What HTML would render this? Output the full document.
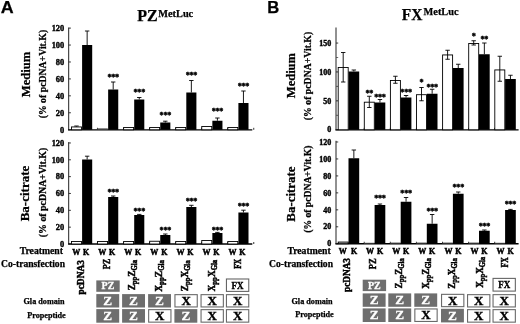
<!DOCTYPE html>
<html><head><meta charset="utf-8"><title>Figure</title>
<style>html,body{margin:0;padding:0;background:#fff}body{width:520px;height:324px;overflow:hidden}svg{display:block}</style>
</head><body>
<svg width="520" height="324" viewBox="0 0 520 324">
<defs><filter id="soft" x="0" y="0" width="520" height="324" filterUnits="userSpaceOnUse"><feGaussianBlur stdDeviation="0.35"/></filter></defs>
<rect width="520" height="324" fill="#fff"/>
<g filter="url(#soft)">
<text x="0.7" y="12.9" font-family='"Liberation Sans","DejaVu Sans",sans-serif' font-size="15.6" font-weight="bold" text-anchor="start" fill="#000" textLength="12.9" lengthAdjust="spacingAndGlyphs" stroke="#000" stroke-width="0.25">A</text>
<text x="267.2" y="13.1" font-family='"Liberation Sans","DejaVu Sans",sans-serif' font-size="15.6" font-weight="bold" text-anchor="start" fill="#000" textLength="12.0" lengthAdjust="spacingAndGlyphs" stroke="#000" stroke-width="0.25">B</text>
<text x="137.3" y="20.5" font-family='"Liberation Serif","DejaVu Serif",serif' font-size="16" font-weight="bold" text-anchor="start" fill="#000"  stroke="#000" stroke-width="0.25">PZ</text>
<text x="158.3" y="16.5" font-family='"Liberation Serif","DejaVu Serif",serif' font-size="10.3" font-weight="bold" text-anchor="start" fill="#000"  stroke="#000" stroke-width="0.25">MetLuc</text>
<text x="401.8" y="20.2" font-family='"Liberation Serif","DejaVu Serif",serif' font-size="16" font-weight="bold" text-anchor="start" fill="#000" textLength="20.6" lengthAdjust="spacingAndGlyphs" stroke="#000" stroke-width="0.25">FX</text>
<text x="423.6" y="15.4" font-family='"Liberation Serif","DejaVu Serif",serif' font-size="10.3" font-weight="bold" text-anchor="start" fill="#000"  stroke="#000" stroke-width="0.25">MetLuc</text>
<text transform="translate(29.8 74.4) rotate(-90)" font-family='"Liberation Serif","DejaVu Serif",serif' font-size="12.6" font-weight="bold" text-anchor="middle" fill="#000"  stroke="#000" stroke-width="0.25">Medium</text>
<text transform="translate(45.8 74.1) rotate(-90)" font-family='"Liberation Serif","DejaVu Serif",serif' font-size="9.78" font-weight="bold" text-anchor="middle" fill="#000"  stroke="#000" stroke-width="0.25">(% of pcDNA+Vit.K)</text>
<text transform="translate(29.0 193.5) rotate(-90)" font-family='"Liberation Serif","DejaVu Serif",serif' font-size="13" font-weight="bold" text-anchor="middle" fill="#000"  stroke="#000" stroke-width="0.25">Ba-citrate</text>
<text transform="translate(45.6 192.5) rotate(-90)" font-family='"Liberation Serif","DejaVu Serif",serif' font-size="9.89" font-weight="bold" text-anchor="middle" fill="#000"  stroke="#000" stroke-width="0.25">(% of pcDNA+Vit.K)</text>
<text transform="translate(294.5 75.6) rotate(-90)" font-family='"Liberation Serif","DejaVu Serif",serif' font-size="12.5" font-weight="bold" text-anchor="middle" fill="#000"  stroke="#000" stroke-width="0.25">Medium</text>
<text transform="translate(311.3 76) rotate(-90)" font-family='"Liberation Serif","DejaVu Serif",serif' font-size="9.75" font-weight="bold" text-anchor="middle" fill="#000"  stroke="#000" stroke-width="0.25">(% of pcDNA+Vit.K)</text>
<text transform="translate(294.7 194.1) rotate(-90)" font-family='"Liberation Serif","DejaVu Serif",serif' font-size="12.9" font-weight="bold" text-anchor="middle" fill="#000"  stroke="#000" stroke-width="0.25">Ba-citrate</text>
<text transform="translate(311.2 189.2) rotate(-90)" font-family='"Liberation Serif","DejaVu Serif",serif' font-size="9.65" font-weight="bold" text-anchor="middle" fill="#000"  stroke="#000" stroke-width="0.25">(% of pcDNA+Vit.K)</text>
<line x1="68.7" y1="27.5" x2="68.7" y2="130.3" stroke="#222" stroke-width="1.0"/>
<line x1="68.2" y1="129.8" x2="252.3" y2="129.8" stroke="#000" stroke-width="1.3"/>
<line x1="68.7" y1="129.7" x2="70.9" y2="129.7" stroke="#222" stroke-width="0.9"/>
<text x="64.2" y="132.51399999999998" font-family='"Liberation Serif","DejaVu Serif",serif' font-size="8.4" font-weight="bold" text-anchor="end" fill="#000" stroke="#000" stroke-width="0.4">0</text>
<line x1="68.7" y1="112.76999999999998" x2="70.9" y2="112.76999999999998" stroke="#222" stroke-width="0.9"/>
<text x="64.2" y="115.58399999999999" font-family='"Liberation Serif","DejaVu Serif",serif' font-size="8.4" font-weight="bold" text-anchor="end" fill="#000" stroke="#000" stroke-width="0.4">20</text>
<line x1="68.7" y1="95.83999999999999" x2="70.9" y2="95.83999999999999" stroke="#222" stroke-width="0.9"/>
<text x="64.2" y="98.654" font-family='"Liberation Serif","DejaVu Serif",serif' font-size="8.4" font-weight="bold" text-anchor="end" fill="#000" stroke="#000" stroke-width="0.4">40</text>
<line x1="68.7" y1="78.91" x2="70.9" y2="78.91" stroke="#222" stroke-width="0.9"/>
<text x="64.2" y="81.724" font-family='"Liberation Serif","DejaVu Serif",serif' font-size="8.4" font-weight="bold" text-anchor="end" fill="#000" stroke="#000" stroke-width="0.4">60</text>
<line x1="68.7" y1="61.97999999999999" x2="70.9" y2="61.97999999999999" stroke="#222" stroke-width="0.9"/>
<text x="64.2" y="64.794" font-family='"Liberation Serif","DejaVu Serif",serif' font-size="8.4" font-weight="bold" text-anchor="end" fill="#000" stroke="#000" stroke-width="0.4">80</text>
<line x1="68.7" y1="45.04999999999998" x2="70.9" y2="45.04999999999998" stroke="#222" stroke-width="0.9"/>
<text x="64.2" y="47.86399999999998" font-family='"Liberation Serif","DejaVu Serif",serif' font-size="8.4" font-weight="bold" text-anchor="end" fill="#000" stroke="#000" stroke-width="0.4">100</text>
<line x1="68.7" y1="28.11999999999999" x2="70.9" y2="28.11999999999999" stroke="#222" stroke-width="0.9"/>
<text x="64.2" y="30.93399999999999" font-family='"Liberation Serif","DejaVu Serif",serif' font-size="8.4" font-weight="bold" text-anchor="end" fill="#000" stroke="#000" stroke-width="0.4">120</text>
<line x1="68.7" y1="142.1" x2="68.7" y2="244.5" stroke="#222" stroke-width="1.0"/>
<line x1="68.2" y1="244" x2="252.3" y2="244" stroke="#000" stroke-width="1.3"/>
<line x1="68.7" y1="244.0" x2="70.9" y2="244.0" stroke="#222" stroke-width="0.9"/>
<text x="64.2" y="246.814" font-family='"Liberation Serif","DejaVu Serif",serif' font-size="8.4" font-weight="bold" text-anchor="end" fill="#000" stroke="#000" stroke-width="0.4">0</text>
<line x1="68.7" y1="227.16" x2="70.9" y2="227.16" stroke="#222" stroke-width="0.9"/>
<text x="64.2" y="229.974" font-family='"Liberation Serif","DejaVu Serif",serif' font-size="8.4" font-weight="bold" text-anchor="end" fill="#000" stroke="#000" stroke-width="0.4">20</text>
<line x1="68.7" y1="210.32" x2="70.9" y2="210.32" stroke="#222" stroke-width="0.9"/>
<text x="64.2" y="213.134" font-family='"Liberation Serif","DejaVu Serif",serif' font-size="8.4" font-weight="bold" text-anchor="end" fill="#000" stroke="#000" stroke-width="0.4">40</text>
<line x1="68.7" y1="193.48000000000002" x2="70.9" y2="193.48000000000002" stroke="#222" stroke-width="0.9"/>
<text x="64.2" y="196.294" font-family='"Liberation Serif","DejaVu Serif",serif' font-size="8.4" font-weight="bold" text-anchor="end" fill="#000" stroke="#000" stroke-width="0.4">60</text>
<line x1="68.7" y1="176.64" x2="70.9" y2="176.64" stroke="#222" stroke-width="0.9"/>
<text x="64.2" y="179.45399999999998" font-family='"Liberation Serif","DejaVu Serif",serif' font-size="8.4" font-weight="bold" text-anchor="end" fill="#000" stroke="#000" stroke-width="0.4">80</text>
<line x1="68.7" y1="159.8" x2="70.9" y2="159.8" stroke="#222" stroke-width="0.9"/>
<text x="64.2" y="162.614" font-family='"Liberation Serif","DejaVu Serif",serif' font-size="8.4" font-weight="bold" text-anchor="end" fill="#000" stroke="#000" stroke-width="0.4">100</text>
<line x1="68.7" y1="142.96" x2="70.9" y2="142.96" stroke="#222" stroke-width="0.9"/>
<text x="64.2" y="145.774" font-family='"Liberation Serif","DejaVu Serif",serif' font-size="8.4" font-weight="bold" text-anchor="end" fill="#000" stroke="#000" stroke-width="0.4">120</text>
<line x1="97.45" y1="129.8" x2="97.45" y2="127.80000000000001" stroke="#000" stroke-width="0.8"/>
<rect x="71.50" y="126.95" width="10.00" height="2.85" fill="#fff" stroke="#000" stroke-width="0.9"/>
<line x1="76.5" y1="126" x2="76.5" y2="126.5" stroke="#000" stroke-width="0.9"/>
<line x1="74.3" y1="126" x2="78.7" y2="126" stroke="#000" stroke-width="0.9"/>
<line x1="87.14999999999999" y1="31" x2="87.14999999999999" y2="45" stroke="#000" stroke-width="0.9"/>
<line x1="84.94999999999999" y1="31" x2="89.35" y2="31" stroke="#000" stroke-width="0.9"/>
<rect x="82.10" y="45.00" width="10.10" height="84.80" fill="#000"/>
<line x1="123.5" y1="129.8" x2="123.5" y2="127.80000000000001" stroke="#000" stroke-width="0.8"/>
<rect x="97.25" y="128.40" width="10.60" height="1.40" fill="#444"/>
<line x1="113.19999999999999" y1="82" x2="113.19999999999999" y2="89.5" stroke="#000" stroke-width="0.9"/>
<line x1="110.99999999999999" y1="82" x2="115.39999999999999" y2="82" stroke="#000" stroke-width="0.9"/>
<rect x="108.15" y="89.50" width="10.10" height="40.30" fill="#000"/>
<text x="113.19999999999999" y="79.6" font-family='"Liberation Serif","DejaVu Serif",serif' font-size="8.2" font-weight="bold" text-anchor="middle" fill="#000" letter-spacing="-0.3" stroke="#000" stroke-width="0.4">***</text>
<line x1="149.55" y1="129.8" x2="149.55" y2="127.80000000000001" stroke="#000" stroke-width="0.8"/>
<rect x="123.60" y="127.45" width="10.00" height="2.35" fill="#fff" stroke="#000" stroke-width="0.9"/>
<line x1="139.25" y1="97.5" x2="139.25" y2="99.5" stroke="#000" stroke-width="0.9"/>
<line x1="137.05" y1="97.5" x2="141.45" y2="97.5" stroke="#000" stroke-width="0.9"/>
<rect x="134.20" y="99.50" width="10.10" height="30.30" fill="#000"/>
<text x="139.25" y="95.35" font-family='"Liberation Serif","DejaVu Serif",serif' font-size="8.2" font-weight="bold" text-anchor="middle" fill="#000" letter-spacing="-0.3" stroke="#000" stroke-width="0.4">***</text>
<line x1="175.60000000000002" y1="129.8" x2="175.60000000000002" y2="127.80000000000001" stroke="#000" stroke-width="0.8"/>
<rect x="149.65" y="127.45" width="10.00" height="2.35" fill="#fff" stroke="#000" stroke-width="0.9"/>
<line x1="165.3" y1="121.2" x2="165.3" y2="122.5" stroke="#000" stroke-width="0.9"/>
<line x1="163.10000000000002" y1="121.2" x2="167.5" y2="121.2" stroke="#000" stroke-width="0.9"/>
<rect x="160.25" y="122.50" width="10.10" height="7.30" fill="#000"/>
<text x="165.3" y="117.85" font-family='"Liberation Serif","DejaVu Serif",serif' font-size="8.2" font-weight="bold" text-anchor="middle" fill="#000" letter-spacing="-0.3" stroke="#000" stroke-width="0.4">***</text>
<line x1="201.65" y1="129.8" x2="201.65" y2="127.80000000000001" stroke="#000" stroke-width="0.8"/>
<rect x="175.70" y="127.45" width="10.00" height="2.35" fill="#fff" stroke="#000" stroke-width="0.9"/>
<line x1="191.35" y1="80.5" x2="191.35" y2="92.5" stroke="#000" stroke-width="0.9"/>
<line x1="189.15" y1="80.5" x2="193.54999999999998" y2="80.5" stroke="#000" stroke-width="0.9"/>
<rect x="186.30" y="92.50" width="10.10" height="37.30" fill="#000"/>
<text x="191.35" y="78.35" font-family='"Liberation Serif","DejaVu Serif",serif' font-size="8.2" font-weight="bold" text-anchor="middle" fill="#000" letter-spacing="-0.3" stroke="#000" stroke-width="0.4">***</text>
<line x1="227.70000000000002" y1="129.8" x2="227.70000000000002" y2="127.80000000000001" stroke="#000" stroke-width="0.8"/>
<rect x="201.75" y="126.45" width="10.00" height="3.35" fill="#fff" stroke="#000" stroke-width="0.9"/>
<line x1="217.4" y1="118" x2="217.4" y2="120.75" stroke="#000" stroke-width="0.9"/>
<line x1="215.20000000000002" y1="118" x2="219.6" y2="118" stroke="#000" stroke-width="0.9"/>
<rect x="212.35" y="120.75" width="10.10" height="9.05" fill="#000"/>
<text x="217.4" y="113.85" font-family='"Liberation Serif","DejaVu Serif",serif' font-size="8.2" font-weight="bold" text-anchor="middle" fill="#000" letter-spacing="-0.3" stroke="#000" stroke-width="0.4">***</text>
<line x1="253.75000000000003" y1="129.8" x2="253.75000000000003" y2="127.80000000000001" stroke="#000" stroke-width="0.8"/>
<rect x="227.80" y="127.45" width="10.00" height="2.35" fill="#fff" stroke="#000" stroke-width="0.9"/>
<line x1="243.45000000000002" y1="91" x2="243.45000000000002" y2="103" stroke="#000" stroke-width="0.9"/>
<line x1="241.25000000000003" y1="91" x2="245.65" y2="91" stroke="#000" stroke-width="0.9"/>
<rect x="238.40" y="103.00" width="10.10" height="26.80" fill="#000"/>
<text x="243.45000000000002" y="88.6" font-family='"Liberation Serif","DejaVu Serif",serif' font-size="8.2" font-weight="bold" text-anchor="middle" fill="#000" letter-spacing="-0.3" stroke="#000" stroke-width="0.4">***</text>
<line x1="97.45" y1="244" x2="97.45" y2="242" stroke="#000" stroke-width="0.8"/>
<rect x="71.50" y="241.45" width="10.00" height="2.55" fill="#fff" stroke="#000" stroke-width="0.9"/>
<line x1="87.14999999999999" y1="156.2" x2="87.14999999999999" y2="159.5" stroke="#000" stroke-width="0.9"/>
<line x1="84.94999999999999" y1="156.2" x2="89.35" y2="156.2" stroke="#000" stroke-width="0.9"/>
<rect x="82.10" y="159.50" width="10.10" height="84.50" fill="#000"/>
<line x1="123.5" y1="244" x2="123.5" y2="242" stroke="#000" stroke-width="0.8"/>
<rect x="97.55" y="241.45" width="10.00" height="2.55" fill="#fff" stroke="#000" stroke-width="0.9"/>
<line x1="113.19999999999999" y1="196" x2="113.19999999999999" y2="197" stroke="#000" stroke-width="0.9"/>
<line x1="110.99999999999999" y1="196" x2="115.39999999999999" y2="196" stroke="#000" stroke-width="0.9"/>
<rect x="108.15" y="197.00" width="10.10" height="47.00" fill="#000"/>
<text x="113.19999999999999" y="195.35" font-family='"Liberation Serif","DejaVu Serif",serif' font-size="8.2" font-weight="bold" text-anchor="middle" fill="#000" letter-spacing="-0.3" stroke="#000" stroke-width="0.4">***</text>
<line x1="149.55" y1="244" x2="149.55" y2="242" stroke="#000" stroke-width="0.8"/>
<rect x="123.60" y="241.45" width="10.00" height="2.55" fill="#fff" stroke="#000" stroke-width="0.9"/>
<line x1="139.25" y1="214.4" x2="139.25" y2="215" stroke="#000" stroke-width="0.9"/>
<line x1="137.05" y1="214.4" x2="141.45" y2="214.4" stroke="#000" stroke-width="0.9"/>
<rect x="134.20" y="215.00" width="10.10" height="29.00" fill="#000"/>
<text x="139.25" y="214.1" font-family='"Liberation Serif","DejaVu Serif",serif' font-size="8.2" font-weight="bold" text-anchor="middle" fill="#000" letter-spacing="-0.3" stroke="#000" stroke-width="0.4">***</text>
<line x1="175.60000000000002" y1="244" x2="175.60000000000002" y2="242" stroke="#000" stroke-width="0.8"/>
<rect x="149.65" y="241.25" width="10.00" height="2.75" fill="#fff" stroke="#000" stroke-width="0.9"/>
<line x1="165.3" y1="234" x2="165.3" y2="235" stroke="#000" stroke-width="0.9"/>
<line x1="163.10000000000002" y1="234" x2="167.5" y2="234" stroke="#000" stroke-width="0.9"/>
<rect x="160.25" y="235.00" width="10.10" height="9.00" fill="#000"/>
<text x="165.3" y="233.35" font-family='"Liberation Serif","DejaVu Serif",serif' font-size="8.2" font-weight="bold" text-anchor="middle" fill="#000" letter-spacing="-0.3" stroke="#000" stroke-width="0.4">***</text>
<line x1="201.65" y1="244" x2="201.65" y2="242" stroke="#000" stroke-width="0.8"/>
<rect x="175.70" y="241.45" width="10.00" height="2.55" fill="#fff" stroke="#000" stroke-width="0.9"/>
<line x1="191.35" y1="205.3" x2="191.35" y2="207" stroke="#000" stroke-width="0.9"/>
<line x1="189.15" y1="205.3" x2="193.54999999999998" y2="205.3" stroke="#000" stroke-width="0.9"/>
<rect x="186.30" y="207.00" width="10.10" height="37.00" fill="#000"/>
<text x="191.35" y="203.79999999999998" font-family='"Liberation Serif","DejaVu Serif",serif' font-size="8.2" font-weight="bold" text-anchor="middle" fill="#000" letter-spacing="-0.3" stroke="#000" stroke-width="0.4">***</text>
<line x1="227.70000000000002" y1="244" x2="227.70000000000002" y2="242" stroke="#000" stroke-width="0.8"/>
<rect x="201.75" y="240.45" width="10.00" height="3.55" fill="#fff" stroke="#000" stroke-width="0.9"/>
<line x1="217.4" y1="232.4" x2="217.4" y2="233" stroke="#000" stroke-width="0.9"/>
<line x1="215.20000000000002" y1="232.4" x2="219.6" y2="232.4" stroke="#000" stroke-width="0.9"/>
<rect x="212.35" y="233.00" width="10.10" height="11.00" fill="#000"/>
<text x="217.4" y="232.6" font-family='"Liberation Serif","DejaVu Serif",serif' font-size="8.2" font-weight="bold" text-anchor="middle" fill="#000" letter-spacing="-0.3" stroke="#000" stroke-width="0.4">***</text>
<line x1="253.75000000000003" y1="244" x2="253.75000000000003" y2="242" stroke="#000" stroke-width="0.8"/>
<rect x="227.80" y="241.45" width="10.00" height="2.55" fill="#fff" stroke="#000" stroke-width="0.9"/>
<line x1="243.45000000000002" y1="210.2" x2="243.45000000000002" y2="212.5" stroke="#000" stroke-width="0.9"/>
<line x1="241.25000000000003" y1="210.2" x2="245.65" y2="210.2" stroke="#000" stroke-width="0.9"/>
<rect x="238.40" y="212.50" width="10.10" height="31.50" fill="#000"/>
<text x="243.45000000000002" y="208.79999999999998" font-family='"Liberation Serif","DejaVu Serif",serif' font-size="8.2" font-weight="bold" text-anchor="middle" fill="#000" letter-spacing="-0.3" stroke="#000" stroke-width="0.4">***</text>
<line x1="336" y1="27.5" x2="336" y2="130.3" stroke="#222" stroke-width="1.0"/>
<line x1="335.5" y1="129.8" x2="518.6" y2="129.8" stroke="#000" stroke-width="1.3"/>
<line x1="336" y1="129.75" x2="338.2" y2="129.75" stroke="#222" stroke-width="0.9"/>
<text x="331.3" y="132.43" font-family='"Liberation Serif","DejaVu Serif",serif' font-size="8.0" font-weight="bold" text-anchor="end" fill="#000" stroke="#000" stroke-width="0.4">0</text>
<line x1="336" y1="100.85" x2="338.2" y2="100.85" stroke="#222" stroke-width="0.9"/>
<text x="331.3" y="103.53" font-family='"Liberation Serif","DejaVu Serif",serif' font-size="8.0" font-weight="bold" text-anchor="end" fill="#000" stroke="#000" stroke-width="0.4">50</text>
<line x1="336" y1="71.95" x2="338.2" y2="71.95" stroke="#222" stroke-width="0.9"/>
<text x="331.3" y="74.63000000000001" font-family='"Liberation Serif","DejaVu Serif",serif' font-size="8.0" font-weight="bold" text-anchor="end" fill="#000" stroke="#000" stroke-width="0.4">100</text>
<line x1="336" y1="43.05000000000001" x2="338.2" y2="43.05000000000001" stroke="#222" stroke-width="0.9"/>
<text x="331.3" y="45.73000000000001" font-family='"Liberation Serif","DejaVu Serif",serif' font-size="8.0" font-weight="bold" text-anchor="end" fill="#000" stroke="#000" stroke-width="0.4">150</text>
<line x1="336" y1="115.3" x2="338.2" y2="115.3" stroke="#444" stroke-width="0.8"/>
<line x1="336" y1="86.4" x2="338.2" y2="86.4" stroke="#444" stroke-width="0.8"/>
<line x1="336" y1="57.5" x2="338.2" y2="57.5" stroke="#444" stroke-width="0.8"/>
<line x1="336" y1="140.8" x2="336" y2="244.25" stroke="#222" stroke-width="1.0"/>
<line x1="335.5" y1="243.75" x2="518.6" y2="243.75" stroke="#000" stroke-width="1.3"/>
<line x1="336" y1="243.75" x2="338.2" y2="243.75" stroke="#222" stroke-width="0.9"/>
<text x="331.3" y="246.43" font-family='"Liberation Serif","DejaVu Serif",serif' font-size="8.0" font-weight="bold" text-anchor="end" fill="#000" stroke="#000" stroke-width="0.4">0</text>
<line x1="336" y1="226.79" x2="338.2" y2="226.79" stroke="#222" stroke-width="0.9"/>
<text x="331.3" y="229.47" font-family='"Liberation Serif","DejaVu Serif",serif' font-size="8.0" font-weight="bold" text-anchor="end" fill="#000" stroke="#000" stroke-width="0.4">20</text>
<line x1="336" y1="209.82999999999998" x2="338.2" y2="209.82999999999998" stroke="#222" stroke-width="0.9"/>
<text x="331.3" y="212.51" font-family='"Liberation Serif","DejaVu Serif",serif' font-size="8.0" font-weight="bold" text-anchor="end" fill="#000" stroke="#000" stroke-width="0.4">40</text>
<line x1="336" y1="192.87" x2="338.2" y2="192.87" stroke="#222" stroke-width="0.9"/>
<text x="331.3" y="195.55" font-family='"Liberation Serif","DejaVu Serif",serif' font-size="8.0" font-weight="bold" text-anchor="end" fill="#000" stroke="#000" stroke-width="0.4">60</text>
<line x1="336" y1="175.91" x2="338.2" y2="175.91" stroke="#222" stroke-width="0.9"/>
<text x="331.3" y="178.59" font-family='"Liberation Serif","DejaVu Serif",serif' font-size="8.0" font-weight="bold" text-anchor="end" fill="#000" stroke="#000" stroke-width="0.4">80</text>
<line x1="336" y1="158.95" x2="338.2" y2="158.95" stroke="#222" stroke-width="0.9"/>
<text x="331.3" y="161.63" font-family='"Liberation Serif","DejaVu Serif",serif' font-size="8.0" font-weight="bold" text-anchor="end" fill="#000" stroke="#000" stroke-width="0.4">100</text>
<line x1="336" y1="141.99" x2="338.2" y2="141.99" stroke="#222" stroke-width="0.9"/>
<text x="331.3" y="144.67000000000002" font-family='"Liberation Serif","DejaVu Serif",serif' font-size="8.0" font-weight="bold" text-anchor="end" fill="#000" stroke="#000" stroke-width="0.4">120</text>
<line x1="364.2" y1="129.8" x2="364.2" y2="127.80000000000001" stroke="#000" stroke-width="0.8"/>
<rect x="338.20" y="67.45" width="10.00" height="62.35" fill="#fff" stroke="#000" stroke-width="0.9"/>
<line x1="343.2" y1="52.5" x2="343.2" y2="82" stroke="#000" stroke-width="0.9"/>
<line x1="341.0" y1="52.5" x2="345.4" y2="52.5" stroke="#000" stroke-width="0.9"/>
<line x1="341.0" y1="82" x2="345.4" y2="82" stroke="#000" stroke-width="0.9"/>
<line x1="353.85" y1="70" x2="353.85" y2="71.5" stroke="#000" stroke-width="0.9"/>
<line x1="351.65000000000003" y1="70" x2="356.05" y2="70" stroke="#000" stroke-width="0.9"/>
<rect x="348.50" y="71.50" width="10.70" height="58.30" fill="#000"/>
<line x1="390.3" y1="129.8" x2="390.3" y2="127.80000000000001" stroke="#000" stroke-width="0.8"/>
<rect x="364.30" y="102.20" width="10.00" height="27.60" fill="#fff" stroke="#000" stroke-width="0.9"/>
<line x1="369.3" y1="96.25" x2="369.3" y2="107.5" stroke="#000" stroke-width="0.9"/>
<line x1="367.1" y1="96.25" x2="371.5" y2="96.25" stroke="#000" stroke-width="0.9"/>
<line x1="367.1" y1="107.5" x2="371.5" y2="107.5" stroke="#000" stroke-width="0.9"/>
<line x1="379.95000000000005" y1="99.5" x2="379.95000000000005" y2="102.5" stroke="#000" stroke-width="0.9"/>
<line x1="377.75000000000006" y1="99.5" x2="382.15000000000003" y2="99.5" stroke="#000" stroke-width="0.9"/>
<rect x="374.60" y="102.50" width="10.70" height="27.30" fill="#000"/>
<text x="369.3" y="95.85" font-family='"Liberation Serif","DejaVu Serif",serif' font-size="8.2" font-weight="bold" text-anchor="middle" fill="#000" letter-spacing="-0.3" stroke="#000" stroke-width="0.4">**</text>
<text x="379.95000000000005" y="99.6" font-family='"Liberation Serif","DejaVu Serif",serif' font-size="8.2" font-weight="bold" text-anchor="middle" fill="#000" letter-spacing="-0.3" stroke="#000" stroke-width="0.4">***</text>
<line x1="416.4" y1="129.8" x2="416.4" y2="127.80000000000001" stroke="#000" stroke-width="0.8"/>
<rect x="390.40" y="80.45" width="10.00" height="49.35" fill="#fff" stroke="#000" stroke-width="0.9"/>
<line x1="395.4" y1="76.25" x2="395.4" y2="83.25" stroke="#000" stroke-width="0.9"/>
<line x1="393.2" y1="76.25" x2="397.59999999999997" y2="76.25" stroke="#000" stroke-width="0.9"/>
<line x1="393.2" y1="83.25" x2="397.59999999999997" y2="83.25" stroke="#000" stroke-width="0.9"/>
<line x1="406.05" y1="95.5" x2="406.05" y2="97.5" stroke="#000" stroke-width="0.9"/>
<line x1="403.85" y1="95.5" x2="408.25" y2="95.5" stroke="#000" stroke-width="0.9"/>
<rect x="400.70" y="97.50" width="10.70" height="32.30" fill="#000"/>
<text x="406.05" y="94.6" font-family='"Liberation Serif","DejaVu Serif",serif' font-size="8.2" font-weight="bold" text-anchor="middle" fill="#000" letter-spacing="-0.3" stroke="#000" stroke-width="0.4">***</text>
<line x1="442.5" y1="129.8" x2="442.5" y2="127.80000000000001" stroke="#000" stroke-width="0.8"/>
<rect x="416.50" y="94.70" width="10.00" height="35.10" fill="#fff" stroke="#000" stroke-width="0.9"/>
<line x1="421.5" y1="87.5" x2="421.5" y2="100.75" stroke="#000" stroke-width="0.9"/>
<line x1="419.3" y1="87.5" x2="423.7" y2="87.5" stroke="#000" stroke-width="0.9"/>
<line x1="419.3" y1="100.75" x2="423.7" y2="100.75" stroke="#000" stroke-width="0.9"/>
<line x1="432.15000000000003" y1="89.25" x2="432.15000000000003" y2="93.75" stroke="#000" stroke-width="0.9"/>
<line x1="429.95000000000005" y1="89.25" x2="434.35" y2="89.25" stroke="#000" stroke-width="0.9"/>
<rect x="426.80" y="93.75" width="10.70" height="36.05" fill="#000"/>
<text x="421.5" y="85.35" font-family='"Liberation Serif","DejaVu Serif",serif' font-size="8.2" font-weight="bold" text-anchor="middle" fill="#000" letter-spacing="-0.3" stroke="#000" stroke-width="0.4">*</text>
<text x="432.15000000000003" y="90.1" font-family='"Liberation Serif","DejaVu Serif",serif' font-size="8.2" font-weight="bold" text-anchor="middle" fill="#000" letter-spacing="-0.3" stroke="#000" stroke-width="0.4">***</text>
<line x1="468.6" y1="129.8" x2="468.6" y2="127.80000000000001" stroke="#000" stroke-width="0.8"/>
<rect x="442.60" y="54.95" width="10.00" height="74.85" fill="#fff" stroke="#000" stroke-width="0.9"/>
<line x1="447.6" y1="50.25" x2="447.6" y2="59.25" stroke="#000" stroke-width="0.9"/>
<line x1="445.40000000000003" y1="50.25" x2="449.8" y2="50.25" stroke="#000" stroke-width="0.9"/>
<line x1="445.40000000000003" y1="59.25" x2="449.8" y2="59.25" stroke="#000" stroke-width="0.9"/>
<line x1="458.25000000000006" y1="64.25" x2="458.25000000000006" y2="68" stroke="#000" stroke-width="0.9"/>
<line x1="456.05000000000007" y1="64.25" x2="460.45000000000005" y2="64.25" stroke="#000" stroke-width="0.9"/>
<rect x="452.90" y="68.00" width="10.70" height="61.80" fill="#000"/>
<line x1="494.7" y1="129.8" x2="494.7" y2="127.80000000000001" stroke="#000" stroke-width="0.8"/>
<rect x="468.70" y="43.45" width="10.00" height="86.35" fill="#fff" stroke="#000" stroke-width="0.9"/>
<line x1="473.7" y1="40.75" x2="473.7" y2="45" stroke="#000" stroke-width="0.9"/>
<line x1="471.5" y1="40.75" x2="475.9" y2="40.75" stroke="#000" stroke-width="0.9"/>
<line x1="471.5" y1="45" x2="475.9" y2="45" stroke="#000" stroke-width="0.9"/>
<line x1="484.35" y1="43" x2="484.35" y2="54.25" stroke="#000" stroke-width="0.9"/>
<line x1="482.15000000000003" y1="43" x2="486.55" y2="43" stroke="#000" stroke-width="0.9"/>
<rect x="479.00" y="54.25" width="10.70" height="75.55" fill="#000"/>
<text x="473.7" y="39.4" font-family='"Liberation Serif","DejaVu Serif",serif' font-size="8.2" font-weight="bold" text-anchor="middle" fill="#000" letter-spacing="-0.3" stroke="#000" stroke-width="0.4">*</text>
<text x="484.35" y="41.5" font-family='"Liberation Serif","DejaVu Serif",serif' font-size="8.2" font-weight="bold" text-anchor="middle" fill="#000" letter-spacing="-0.3" stroke="#000" stroke-width="0.4">**</text>
<line x1="520.8" y1="129.8" x2="520.8" y2="127.80000000000001" stroke="#000" stroke-width="0.8"/>
<rect x="494.80" y="69.95" width="10.00" height="59.85" fill="#fff" stroke="#000" stroke-width="0.9"/>
<line x1="499.8" y1="56.25" x2="499.8" y2="81.25" stroke="#000" stroke-width="0.9"/>
<line x1="497.6" y1="56.25" x2="502.0" y2="56.25" stroke="#000" stroke-width="0.9"/>
<line x1="497.6" y1="81.25" x2="502.0" y2="81.25" stroke="#000" stroke-width="0.9"/>
<line x1="510.45000000000005" y1="75.25" x2="510.45000000000005" y2="79" stroke="#000" stroke-width="0.9"/>
<line x1="508.25000000000006" y1="75.25" x2="512.6500000000001" y2="75.25" stroke="#000" stroke-width="0.9"/>
<rect x="505.10" y="79.00" width="10.70" height="50.80" fill="#000"/>
<line x1="364.2" y1="243.75" x2="364.2" y2="241.75" stroke="#000" stroke-width="0.8"/>
<rect x="338.20" y="242.05" width="10.00" height="1.70" fill="#bbb" stroke="#000" stroke-width="0.9"/>
<line x1="353.85" y1="150" x2="353.85" y2="158.25" stroke="#000" stroke-width="0.9"/>
<line x1="351.65000000000003" y1="150" x2="356.05" y2="150" stroke="#000" stroke-width="0.9"/>
<rect x="348.50" y="158.25" width="10.70" height="85.50" fill="#000"/>
<line x1="390.3" y1="243.75" x2="390.3" y2="241.75" stroke="#000" stroke-width="0.8"/>
<rect x="364.00" y="242.80" width="10.60" height="0.95" fill="#444"/>
<line x1="379.95000000000005" y1="204" x2="379.95000000000005" y2="205" stroke="#000" stroke-width="0.9"/>
<line x1="377.75000000000006" y1="204" x2="382.15000000000003" y2="204" stroke="#000" stroke-width="0.9"/>
<rect x="374.60" y="205.00" width="10.70" height="38.75" fill="#000"/>
<text x="379.95000000000005" y="200.85" font-family='"Liberation Serif","DejaVu Serif",serif' font-size="8.2" font-weight="bold" text-anchor="middle" fill="#000" letter-spacing="-0.3" stroke="#000" stroke-width="0.4">***</text>
<line x1="416.4" y1="243.75" x2="416.4" y2="241.75" stroke="#000" stroke-width="0.8"/>
<rect x="390.10" y="242.60" width="10.60" height="1.15" fill="#444"/>
<line x1="406.05" y1="197.5" x2="406.05" y2="201.75" stroke="#000" stroke-width="0.9"/>
<line x1="403.85" y1="197.5" x2="408.25" y2="197.5" stroke="#000" stroke-width="0.9"/>
<rect x="400.70" y="201.75" width="10.70" height="42.00" fill="#000"/>
<text x="406.05" y="195.85" font-family='"Liberation Serif","DejaVu Serif",serif' font-size="8.2" font-weight="bold" text-anchor="middle" fill="#000" letter-spacing="-0.3" stroke="#000" stroke-width="0.4">***</text>
<line x1="442.5" y1="243.75" x2="442.5" y2="241.75" stroke="#000" stroke-width="0.8"/>
<rect x="416.20" y="242.60" width="10.60" height="1.15" fill="#444"/>
<line x1="432.15000000000003" y1="214.5" x2="432.15000000000003" y2="223.75" stroke="#000" stroke-width="0.9"/>
<line x1="429.95000000000005" y1="214.5" x2="434.35" y2="214.5" stroke="#000" stroke-width="0.9"/>
<rect x="426.80" y="223.75" width="10.70" height="20.00" fill="#000"/>
<text x="432.15000000000003" y="214.1" font-family='"Liberation Serif","DejaVu Serif",serif' font-size="8.2" font-weight="bold" text-anchor="middle" fill="#000" letter-spacing="-0.3" stroke="#000" stroke-width="0.4">***</text>
<line x1="468.6" y1="243.75" x2="468.6" y2="241.75" stroke="#000" stroke-width="0.8"/>
<rect x="442.30" y="242.60" width="10.60" height="1.15" fill="#444"/>
<line x1="458.25000000000006" y1="192" x2="458.25000000000006" y2="193.75" stroke="#000" stroke-width="0.9"/>
<line x1="456.05000000000007" y1="192" x2="460.45000000000005" y2="192" stroke="#000" stroke-width="0.9"/>
<rect x="452.90" y="193.75" width="10.70" height="50.00" fill="#000"/>
<text x="458.25000000000006" y="189.6" font-family='"Liberation Serif","DejaVu Serif",serif' font-size="8.2" font-weight="bold" text-anchor="middle" fill="#000" letter-spacing="-0.3" stroke="#000" stroke-width="0.4">***</text>
<line x1="494.7" y1="243.75" x2="494.7" y2="241.75" stroke="#000" stroke-width="0.8"/>
<rect x="468.40" y="242.60" width="10.60" height="1.15" fill="#444"/>
<line x1="484.35" y1="230" x2="484.35" y2="230.75" stroke="#000" stroke-width="0.9"/>
<line x1="482.15000000000003" y1="230" x2="486.55" y2="230" stroke="#000" stroke-width="0.9"/>
<rect x="479.00" y="230.75" width="10.70" height="13.00" fill="#000"/>
<text x="484.35" y="229.1" font-family='"Liberation Serif","DejaVu Serif",serif' font-size="8.2" font-weight="bold" text-anchor="middle" fill="#000" letter-spacing="-0.3" stroke="#000" stroke-width="0.4">***</text>
<line x1="520.8" y1="243.75" x2="520.8" y2="241.75" stroke="#000" stroke-width="0.8"/>
<rect x="494.50" y="242.80" width="10.60" height="0.95" fill="#444"/>
<line x1="510.45000000000005" y1="209.4" x2="510.45000000000005" y2="210" stroke="#000" stroke-width="0.9"/>
<line x1="508.25000000000006" y1="209.4" x2="512.6500000000001" y2="209.4" stroke="#000" stroke-width="0.9"/>
<rect x="505.10" y="210.00" width="10.70" height="33.75" fill="#000"/>
<text x="510.45000000000005" y="207.1" font-family='"Liberation Serif","DejaVu Serif",serif' font-size="8.2" font-weight="bold" text-anchor="middle" fill="#000" letter-spacing="-0.3" stroke="#000" stroke-width="0.4">***</text>
<text x="63" y="254.4" font-family='"Liberation Serif","DejaVu Serif",serif' font-size="9.6" font-weight="bold" text-anchor="end" fill="#000" textLength="43.3" lengthAdjust="spacingAndGlyphs" stroke="#000" stroke-width="0.25">Treatment</text>
<text x="65" y="267.4" font-family='"Liberation Serif","DejaVu Serif",serif' font-size="9.6" font-weight="bold" text-anchor="end" fill="#000"  stroke="#000" stroke-width="0.25">Co-transfection</text>
<text x="64.7" y="304.1" font-family='"Liberation Serif","DejaVu Serif",serif' font-size="8.2" font-weight="bold" text-anchor="end" fill="#000"  stroke="#000" stroke-width="0.25">Gla domain</text>
<text x="65.7" y="317.7" font-family='"Liberation Serif","DejaVu Serif",serif' font-size="8.2" font-weight="bold" text-anchor="end" fill="#000"  stroke="#000" stroke-width="0.25">Propeptide</text>
<text x="76.2" y="254.5" font-family='"Liberation Serif","DejaVu Serif",serif' font-size="8.0" font-weight="bold" text-anchor="middle" fill="#000" stroke="#000" stroke-width="0.45">W</text>
<text x="86.1" y="254.5" font-family='"Liberation Serif","DejaVu Serif",serif' font-size="8.0" font-weight="bold" text-anchor="middle" fill="#000" stroke="#000" stroke-width="0.45">K</text>
<text x="102.25" y="254.5" font-family='"Liberation Serif","DejaVu Serif",serif' font-size="8.0" font-weight="bold" text-anchor="middle" fill="#000" stroke="#000" stroke-width="0.45">W</text>
<text x="112.14999999999999" y="254.5" font-family='"Liberation Serif","DejaVu Serif",serif' font-size="8.0" font-weight="bold" text-anchor="middle" fill="#000" stroke="#000" stroke-width="0.45">K</text>
<text x="128.29999999999998" y="254.5" font-family='"Liberation Serif","DejaVu Serif",serif' font-size="8.0" font-weight="bold" text-anchor="middle" fill="#000" stroke="#000" stroke-width="0.45">W</text>
<text x="138.2" y="254.5" font-family='"Liberation Serif","DejaVu Serif",serif' font-size="8.0" font-weight="bold" text-anchor="middle" fill="#000" stroke="#000" stroke-width="0.45">K</text>
<text x="154.35" y="254.5" font-family='"Liberation Serif","DejaVu Serif",serif' font-size="8.0" font-weight="bold" text-anchor="middle" fill="#000" stroke="#000" stroke-width="0.45">W</text>
<text x="164.25" y="254.5" font-family='"Liberation Serif","DejaVu Serif",serif' font-size="8.0" font-weight="bold" text-anchor="middle" fill="#000" stroke="#000" stroke-width="0.45">K</text>
<text x="180.39999999999998" y="254.5" font-family='"Liberation Serif","DejaVu Serif",serif' font-size="8.0" font-weight="bold" text-anchor="middle" fill="#000" stroke="#000" stroke-width="0.45">W</text>
<text x="190.29999999999998" y="254.5" font-family='"Liberation Serif","DejaVu Serif",serif' font-size="8.0" font-weight="bold" text-anchor="middle" fill="#000" stroke="#000" stroke-width="0.45">K</text>
<text x="206.45" y="254.5" font-family='"Liberation Serif","DejaVu Serif",serif' font-size="8.0" font-weight="bold" text-anchor="middle" fill="#000" stroke="#000" stroke-width="0.45">W</text>
<text x="216.35" y="254.5" font-family='"Liberation Serif","DejaVu Serif",serif' font-size="8.0" font-weight="bold" text-anchor="middle" fill="#000" stroke="#000" stroke-width="0.45">K</text>
<text x="232.5" y="254.5" font-family='"Liberation Serif","DejaVu Serif",serif' font-size="8.0" font-weight="bold" text-anchor="middle" fill="#000" stroke="#000" stroke-width="0.45">W</text>
<text x="242.4" y="254.5" font-family='"Liberation Serif","DejaVu Serif",serif' font-size="8.0" font-weight="bold" text-anchor="middle" fill="#000" stroke="#000" stroke-width="0.45">K</text>
<text transform="translate(83.6 260) rotate(-90)" font-family='"Liberation Serif","DejaVu Serif",serif' font-size="9.5" font-weight="bold" text-anchor="end" fill="#000" textLength="34.6" lengthAdjust="spacingAndGlyphs" stroke="#000" stroke-width="0.45">pcDNA3</text>
<text transform="translate(110.3 258.8) rotate(-90)" font-family='"Liberation Serif","DejaVu Serif",serif' font-size="9.5" font-weight="bold" text-anchor="end" fill="#000" textLength="10.5" lengthAdjust="spacingAndGlyphs" stroke="#000" stroke-width="0.45">PZ</text>
<text transform="translate(134.7 260) rotate(-90)" font-family='"Liberation Serif","DejaVu Serif",serif' font-size="10" font-weight="bold" text-anchor="end" fill="#000" textLength="30.3" lengthAdjust="spacingAndGlyphs" stroke="#000" stroke-width="0.45">Z<tspan font-size="7.3" dy="2.0">pp</tspan><tspan dy="-2.0">Z</tspan><tspan font-size="7.3" dy="2.0">Gla</tspan></text>
<text transform="translate(162 260) rotate(-90)" font-family='"Liberation Serif","DejaVu Serif",serif' font-size="10" font-weight="bold" text-anchor="end" fill="#000" textLength="31.8" lengthAdjust="spacingAndGlyphs" stroke="#000" stroke-width="0.45">X<tspan font-size="7.3" dy="2.0">pp</tspan><tspan dy="-2.0">Z</tspan><tspan font-size="7.3" dy="2.0">Gla</tspan></text>
<text transform="translate(187.7 260.4) rotate(-90)" font-family='"Liberation Serif","DejaVu Serif",serif' font-size="10" font-weight="bold" text-anchor="end" fill="#000" textLength="30.8" lengthAdjust="spacingAndGlyphs" stroke="#000" stroke-width="0.45">Z<tspan font-size="7.3" dy="2.0">pp</tspan><tspan dy="-2.0">X</tspan><tspan font-size="7.3" dy="2.0">Gla</tspan></text>
<text transform="translate(214.6 259.8) rotate(-90)" font-family='"Liberation Serif","DejaVu Serif",serif' font-size="10" font-weight="bold" text-anchor="end" fill="#000" textLength="31.6" lengthAdjust="spacingAndGlyphs" stroke="#000" stroke-width="0.45">X<tspan font-size="7.3" dy="2.0">pp</tspan><tspan dy="-2.0">X</tspan><tspan font-size="7.3" dy="2.0">Gla</tspan></text>
<text transform="translate(240.6 258.8) rotate(-90)" font-family='"Liberation Serif","DejaVu Serif",serif' font-size="9.5" font-weight="bold" text-anchor="end" fill="#000" textLength="10" lengthAdjust="spacingAndGlyphs" stroke="#000" stroke-width="0.45">FX</text>
<rect x="96.30" y="280.40" width="23.40" height="11.40" fill="#6e6e6e"/>
<text x="108.0" y="289.3" font-family='"Liberation Serif","DejaVu Serif",serif' font-size="10" font-weight="bold" text-anchor="middle" fill="#fff" stroke="#fff" stroke-width="0.3">PZ</text>
<rect x="96.30" y="294.10" width="22.90" height="13.40" fill="#6e6e6e"/>
<text x="107.75" y="305.0" font-family='"Liberation Serif","DejaVu Serif",serif' font-size="13.3" font-weight="bold" text-anchor="middle" fill="#fff" stroke="#fff" stroke-width="0.3">Z</text>
<rect x="96.30" y="309.10" width="22.90" height="13.60" fill="#6e6e6e"/>
<text x="107.75" y="320.1" font-family='"Liberation Serif","DejaVu Serif",serif' font-size="13.3" font-weight="bold" text-anchor="middle" fill="#fff" stroke="#fff" stroke-width="0.3">Z</text>
<rect x="122.10" y="294.10" width="22.90" height="13.40" fill="#6e6e6e"/>
<text x="133.54999999999998" y="305.0" font-family='"Liberation Serif","DejaVu Serif",serif' font-size="13.3" font-weight="bold" text-anchor="middle" fill="#fff" stroke="#fff" stroke-width="0.3">Z</text>
<rect x="122.10" y="309.10" width="22.90" height="13.60" fill="#6e6e6e"/>
<text x="133.54999999999998" y="320.1" font-family='"Liberation Serif","DejaVu Serif",serif' font-size="13.3" font-weight="bold" text-anchor="middle" fill="#fff" stroke="#fff" stroke-width="0.3">Z</text>
<rect x="148.10" y="294.10" width="22.90" height="13.40" fill="#6e6e6e"/>
<text x="159.54999999999998" y="305.0" font-family='"Liberation Serif","DejaVu Serif",serif' font-size="13.3" font-weight="bold" text-anchor="middle" fill="#fff" stroke="#fff" stroke-width="0.3">Z</text>
<rect x="148.65" y="309.65" width="22.30" height="12.50" fill="#fff" stroke="#6a6a6a" stroke-width="1.1"/>
<text x="159.79999999999998" y="320.05" font-family='"Liberation Serif","DejaVu Serif",serif' font-size="13.0" font-weight="bold" text-anchor="middle" fill="#000" stroke="#000" stroke-width="0.4">X</text>
<rect x="174.95" y="294.65" width="22.30" height="12.30" fill="#fff" stroke="#6a6a6a" stroke-width="1.1"/>
<text x="186.1" y="304.95" font-family='"Liberation Serif","DejaVu Serif",serif' font-size="13.0" font-weight="bold" text-anchor="middle" fill="#000" stroke="#000" stroke-width="0.4">X</text>
<rect x="174.40" y="309.10" width="22.90" height="13.60" fill="#6e6e6e"/>
<text x="185.85" y="320.1" font-family='"Liberation Serif","DejaVu Serif",serif' font-size="13.3" font-weight="bold" text-anchor="middle" fill="#fff" stroke="#fff" stroke-width="0.3">Z</text>
<rect x="201.05" y="294.65" width="22.30" height="12.30" fill="#fff" stroke="#6a6a6a" stroke-width="1.1"/>
<text x="212.2" y="304.95" font-family='"Liberation Serif","DejaVu Serif",serif' font-size="13.0" font-weight="bold" text-anchor="middle" fill="#000" stroke="#000" stroke-width="0.4">X</text>
<rect x="201.05" y="309.65" width="22.30" height="12.50" fill="#fff" stroke="#6a6a6a" stroke-width="1.1"/>
<text x="212.2" y="320.05" font-family='"Liberation Serif","DejaVu Serif",serif' font-size="13.0" font-weight="bold" text-anchor="middle" fill="#000" stroke="#000" stroke-width="0.4">X</text>
<rect x="226.45" y="279.00" width="22.30" height="12.40" fill="#fff" stroke="#666" stroke-width="1.1"/>
<text x="237.6" y="288.7" font-family='"Liberation Serif","DejaVu Serif",serif' font-size="9.8" font-weight="bold" text-anchor="middle" fill="#000" textLength="12.0" lengthAdjust="spacingAndGlyphs" stroke="#000" stroke-width="0.35">FX</text>
<rect x="226.45" y="294.65" width="22.30" height="12.30" fill="#fff" stroke="#6a6a6a" stroke-width="1.1"/>
<text x="237.6" y="304.95" font-family='"Liberation Serif","DejaVu Serif",serif' font-size="13.0" font-weight="bold" text-anchor="middle" fill="#000" stroke="#000" stroke-width="0.4">X</text>
<rect x="226.45" y="309.65" width="22.30" height="12.50" fill="#fff" stroke="#6a6a6a" stroke-width="1.1"/>
<text x="237.6" y="320.05" font-family='"Liberation Serif","DejaVu Serif",serif' font-size="13.0" font-weight="bold" text-anchor="middle" fill="#000" stroke="#000" stroke-width="0.4">X</text>
<text x="330.7" y="254.4" font-family='"Liberation Serif","DejaVu Serif",serif' font-size="9.6" font-weight="bold" text-anchor="end" fill="#000" textLength="43.3" lengthAdjust="spacingAndGlyphs" stroke="#000" stroke-width="0.25">Treatment</text>
<text x="333" y="267.4" font-family='"Liberation Serif","DejaVu Serif",serif' font-size="9.6" font-weight="bold" text-anchor="end" fill="#000"  stroke="#000" stroke-width="0.25">Co-transfection</text>
<text x="332.7" y="303.70000000000005" font-family='"Liberation Serif","DejaVu Serif",serif' font-size="8.2" font-weight="bold" text-anchor="end" fill="#000"  stroke="#000" stroke-width="0.25">Gla domain</text>
<text x="333.7" y="317.0" font-family='"Liberation Serif","DejaVu Serif",serif' font-size="8.2" font-weight="bold" text-anchor="end" fill="#000"  stroke="#000" stroke-width="0.25">Propeptide</text>
<text x="342.8" y="253.8" font-family='"Liberation Serif","DejaVu Serif",serif' font-size="8.0" font-weight="bold" text-anchor="middle" fill="#000" stroke="#000" stroke-width="0.45">W</text>
<text x="354.2" y="253.8" font-family='"Liberation Serif","DejaVu Serif",serif' font-size="8.0" font-weight="bold" text-anchor="middle" fill="#000" stroke="#000" stroke-width="0.45">K</text>
<text x="370.1" y="253.8" font-family='"Liberation Serif","DejaVu Serif",serif' font-size="8.0" font-weight="bold" text-anchor="middle" fill="#000" stroke="#000" stroke-width="0.45">W</text>
<text x="380.00000000000006" y="253.8" font-family='"Liberation Serif","DejaVu Serif",serif' font-size="8.0" font-weight="bold" text-anchor="middle" fill="#000" stroke="#000" stroke-width="0.45">K</text>
<text x="396.2" y="253.8" font-family='"Liberation Serif","DejaVu Serif",serif' font-size="8.0" font-weight="bold" text-anchor="middle" fill="#000" stroke="#000" stroke-width="0.45">W</text>
<text x="406.1" y="253.8" font-family='"Liberation Serif","DejaVu Serif",serif' font-size="8.0" font-weight="bold" text-anchor="middle" fill="#000" stroke="#000" stroke-width="0.45">K</text>
<text x="422.3" y="253.8" font-family='"Liberation Serif","DejaVu Serif",serif' font-size="8.0" font-weight="bold" text-anchor="middle" fill="#000" stroke="#000" stroke-width="0.45">W</text>
<text x="432.20000000000005" y="253.8" font-family='"Liberation Serif","DejaVu Serif",serif' font-size="8.0" font-weight="bold" text-anchor="middle" fill="#000" stroke="#000" stroke-width="0.45">K</text>
<text x="448.4" y="253.8" font-family='"Liberation Serif","DejaVu Serif",serif' font-size="8.0" font-weight="bold" text-anchor="middle" fill="#000" stroke="#000" stroke-width="0.45">W</text>
<text x="458.3" y="253.8" font-family='"Liberation Serif","DejaVu Serif",serif' font-size="8.0" font-weight="bold" text-anchor="middle" fill="#000" stroke="#000" stroke-width="0.45">K</text>
<text x="474.5" y="253.8" font-family='"Liberation Serif","DejaVu Serif",serif' font-size="8.0" font-weight="bold" text-anchor="middle" fill="#000" stroke="#000" stroke-width="0.45">W</text>
<text x="484.40000000000003" y="253.8" font-family='"Liberation Serif","DejaVu Serif",serif' font-size="8.0" font-weight="bold" text-anchor="middle" fill="#000" stroke="#000" stroke-width="0.45">K</text>
<text x="500.6" y="253.8" font-family='"Liberation Serif","DejaVu Serif",serif' font-size="8.0" font-weight="bold" text-anchor="middle" fill="#000" stroke="#000" stroke-width="0.45">W</text>
<text x="510.50000000000006" y="253.8" font-family='"Liberation Serif","DejaVu Serif",serif' font-size="8.0" font-weight="bold" text-anchor="middle" fill="#000" stroke="#000" stroke-width="0.45">K</text>
<text transform="translate(350.2 258) rotate(-90)" font-family='"Liberation Serif","DejaVu Serif",serif' font-size="9.5" font-weight="bold" text-anchor="end" fill="#000" textLength="34" lengthAdjust="spacingAndGlyphs" stroke="#000" stroke-width="0.45">pcDNA3</text>
<text transform="translate(376 258.4) rotate(-90)" font-family='"Liberation Serif","DejaVu Serif",serif' font-size="9.5" font-weight="bold" text-anchor="end" fill="#000" textLength="10.8" lengthAdjust="spacingAndGlyphs" stroke="#000" stroke-width="0.45">PZ</text>
<text transform="translate(402.2 258.4) rotate(-90)" font-family='"Liberation Serif","DejaVu Serif",serif' font-size="10" font-weight="bold" text-anchor="end" fill="#000" textLength="30" lengthAdjust="spacingAndGlyphs" stroke="#000" stroke-width="0.45">Z<tspan font-size="7.3" dy="2.0">pp</tspan><tspan dy="-2.0">Z</tspan><tspan font-size="7.3" dy="2.0">Gla</tspan></text>
<text transform="translate(429.3 258.2) rotate(-90)" font-family='"Liberation Serif","DejaVu Serif",serif' font-size="10" font-weight="bold" text-anchor="end" fill="#000" textLength="30.6" lengthAdjust="spacingAndGlyphs" stroke="#000" stroke-width="0.45">X<tspan font-size="7.3" dy="2.0">pp</tspan><tspan dy="-2.0">Z</tspan><tspan font-size="7.3" dy="2.0">Gla</tspan></text>
<text transform="translate(454.7 258.2) rotate(-90)" font-family='"Liberation Serif","DejaVu Serif",serif' font-size="10" font-weight="bold" text-anchor="end" fill="#000" textLength="30.6" lengthAdjust="spacingAndGlyphs" stroke="#000" stroke-width="0.45">Z<tspan font-size="7.3" dy="2.0">pp</tspan><tspan dy="-2.0">X</tspan><tspan font-size="7.3" dy="2.0">Gla</tspan></text>
<text transform="translate(482.9 256.8) rotate(-90)" font-family='"Liberation Serif","DejaVu Serif",serif' font-size="10" font-weight="bold" text-anchor="end" fill="#000" textLength="31" lengthAdjust="spacingAndGlyphs" stroke="#000" stroke-width="0.45">X<tspan font-size="7.3" dy="2.0">pp</tspan><tspan dy="-2.0">X</tspan><tspan font-size="7.3" dy="2.0">Gla</tspan></text>
<text transform="translate(508.2 257.2) rotate(-90)" font-family='"Liberation Serif","DejaVu Serif",serif' font-size="9.5" font-weight="bold" text-anchor="end" fill="#000" textLength="10.2" lengthAdjust="spacingAndGlyphs" stroke="#000" stroke-width="0.45">FX</text>
<rect x="362.70" y="279.70" width="23.40" height="11.40" fill="#6e6e6e"/>
<text x="374.4" y="288.6" font-family='"Liberation Serif","DejaVu Serif",serif' font-size="10" font-weight="bold" text-anchor="middle" fill="#fff" stroke="#fff" stroke-width="0.3">PZ</text>
<rect x="362.70" y="293.40" width="22.90" height="13.40" fill="#6e6e6e"/>
<text x="374.15" y="304.3" font-family='"Liberation Serif","DejaVu Serif",serif' font-size="13.3" font-weight="bold" text-anchor="middle" fill="#fff" stroke="#fff" stroke-width="0.3">Z</text>
<rect x="362.70" y="308.40" width="22.90" height="13.60" fill="#6e6e6e"/>
<text x="374.15" y="319.40000000000003" font-family='"Liberation Serif","DejaVu Serif",serif' font-size="13.3" font-weight="bold" text-anchor="middle" fill="#fff" stroke="#fff" stroke-width="0.3">Z</text>
<rect x="388.30" y="293.40" width="22.90" height="13.40" fill="#6e6e6e"/>
<text x="399.75" y="304.3" font-family='"Liberation Serif","DejaVu Serif",serif' font-size="13.3" font-weight="bold" text-anchor="middle" fill="#fff" stroke="#fff" stroke-width="0.3">Z</text>
<rect x="388.30" y="308.40" width="22.90" height="13.60" fill="#6e6e6e"/>
<text x="399.75" y="319.40000000000003" font-family='"Liberation Serif","DejaVu Serif",serif' font-size="13.3" font-weight="bold" text-anchor="middle" fill="#fff" stroke="#fff" stroke-width="0.3">Z</text>
<rect x="414.30" y="293.40" width="22.90" height="13.40" fill="#6e6e6e"/>
<text x="425.75" y="304.3" font-family='"Liberation Serif","DejaVu Serif",serif' font-size="13.3" font-weight="bold" text-anchor="middle" fill="#fff" stroke="#fff" stroke-width="0.3">Z</text>
<rect x="414.85" y="308.95" width="22.30" height="12.50" fill="#fff" stroke="#6a6a6a" stroke-width="1.1"/>
<text x="426.0" y="319.35" font-family='"Liberation Serif","DejaVu Serif",serif' font-size="13.0" font-weight="bold" text-anchor="middle" fill="#000" stroke="#000" stroke-width="0.4">X</text>
<rect x="441.55" y="294.35" width="22.30" height="12.30" fill="#fff" stroke="#6a6a6a" stroke-width="1.1"/>
<text x="452.7" y="304.65" font-family='"Liberation Serif","DejaVu Serif",serif' font-size="13.0" font-weight="bold" text-anchor="middle" fill="#000" stroke="#000" stroke-width="0.4">X</text>
<rect x="441.00" y="308.80" width="22.90" height="13.60" fill="#6e6e6e"/>
<text x="452.45" y="319.8" font-family='"Liberation Serif","DejaVu Serif",serif' font-size="13.3" font-weight="bold" text-anchor="middle" fill="#fff" stroke="#fff" stroke-width="0.3">Z</text>
<rect x="467.55" y="294.65" width="22.30" height="12.30" fill="#fff" stroke="#6a6a6a" stroke-width="1.1"/>
<text x="478.7" y="304.95" font-family='"Liberation Serif","DejaVu Serif",serif' font-size="13.0" font-weight="bold" text-anchor="middle" fill="#000" stroke="#000" stroke-width="0.4">X</text>
<rect x="467.55" y="309.65" width="22.30" height="12.50" fill="#fff" stroke="#6a6a6a" stroke-width="1.1"/>
<text x="478.7" y="320.05" font-family='"Liberation Serif","DejaVu Serif",serif' font-size="13.0" font-weight="bold" text-anchor="middle" fill="#000" stroke="#000" stroke-width="0.4">X</text>
<rect x="493.05" y="278.40" width="22.30" height="12.70" fill="#fff" stroke="#666" stroke-width="1.1"/>
<text x="504.2" y="288.09999999999997" font-family='"Liberation Serif","DejaVu Serif",serif' font-size="9.8" font-weight="bold" text-anchor="middle" fill="#000" textLength="12.0" lengthAdjust="spacingAndGlyphs" stroke="#000" stroke-width="0.35">FX</text>
<rect x="493.05" y="294.65" width="22.30" height="12.30" fill="#fff" stroke="#6a6a6a" stroke-width="1.1"/>
<text x="504.2" y="304.95" font-family='"Liberation Serif","DejaVu Serif",serif' font-size="13.0" font-weight="bold" text-anchor="middle" fill="#000" stroke="#000" stroke-width="0.4">X</text>
<rect x="493.05" y="309.65" width="22.30" height="12.50" fill="#fff" stroke="#6a6a6a" stroke-width="1.1"/>
<text x="504.2" y="320.05" font-family='"Liberation Serif","DejaVu Serif",serif' font-size="13.0" font-weight="bold" text-anchor="middle" fill="#000" stroke="#000" stroke-width="0.4">X</text>
</g></svg>
</body></html>
